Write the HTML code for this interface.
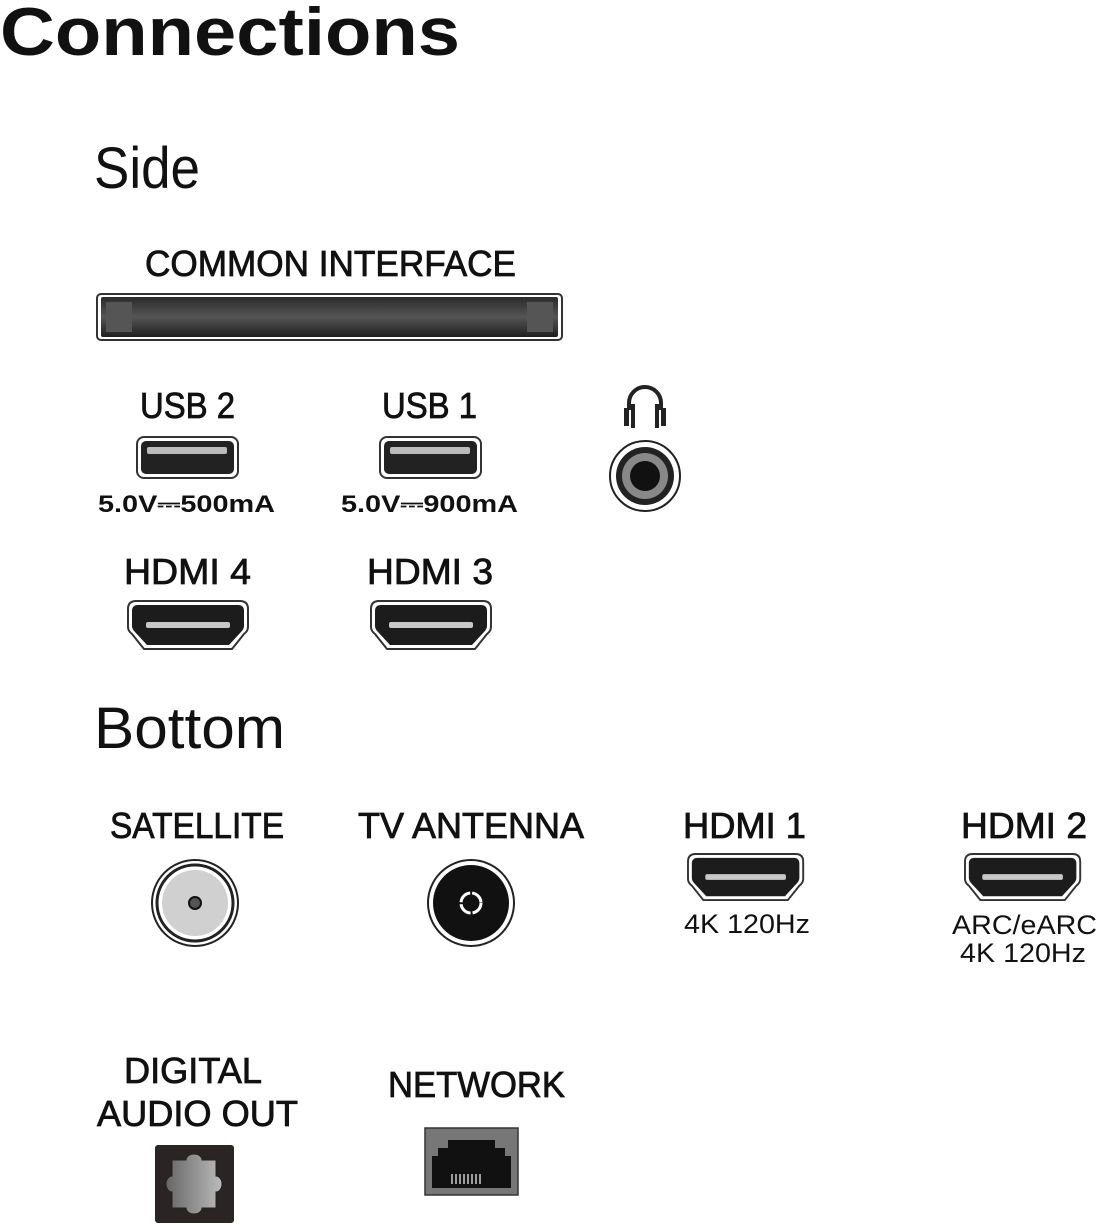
<!DOCTYPE html>
<html><head><meta charset="utf-8"><style>
html,body{margin:0;padding:0;background:#fff;}
svg{display:block;}
text{font-family:"Liberation Sans",sans-serif;fill:#111;}
.b{font-weight:bold;}
.l{stroke:#111;stroke-width:0.8;}
</style></head><body>
<svg width="1097" height="1225" viewBox="0 0 1097 1225" xmlns="http://www.w3.org/2000/svg">
<defs>
<linearGradient id="ci" x1="0" y1="0" x2="0" y2="1">
<stop offset="0" stop-color="#2a2a2a"/><stop offset="0.5" stop-color="#555"/><stop offset="1" stop-color="#1e1e1e"/>
</linearGradient>
<linearGradient id="opt" x1="0" y1="0" x2="1" y2="0">
<stop offset="0" stop-color="#666"/><stop offset="1" stop-color="#bbb"/>
</linearGradient>
<g id="hdmi">
<path d="M8,0 H112 Q120,0 120,8 V26 Q120,30 116,33 L104,48 H16 L4,33 Q0,30 0,26 V8 Q0,0 8,0 Z" fill="#fff" stroke="#333" stroke-width="2"/>
<path d="M10,4 H110 Q116,4 116,10 V25 Q116,28 113,31 L101,44 H19 L7,31 Q4,28 4,25 V10 Q4,4 10,4 Z" fill="#1c1c1c"/>
<rect x="18" y="21" width="84" height="6" rx="2" fill="#c8c8c8"/>
</g>
<g id="usb">
<rect x="0" y="0" width="101" height="41" rx="7" fill="#fff" stroke="#333" stroke-width="2"/>
<rect x="4" y="4" width="93" height="33" rx="5" fill="#222"/>
<rect x="10" y="10" width="80" height="7" rx="2" fill="#bbb"/>
</g>
</defs>

<text x="0" y="55" class="b" font-size="68" textLength="460" lengthAdjust="spacingAndGlyphs">Connections</text>
<text x="94" y="188" font-size="58" textLength="106" lengthAdjust="spacingAndGlyphs">Side</text>
<text x="94" y="748" font-size="58" textLength="191" lengthAdjust="spacingAndGlyphs">Bottom</text>

<text x="145" y="276" class="l" font-size="36" textLength="371" lengthAdjust="spacingAndGlyphs">COMMON INTERFACE</text>
<rect x="97" y="294" width="465" height="46" rx="4" fill="#fff" stroke="#333" stroke-width="2"/>
<rect x="101" y="297" width="457" height="40" rx="2" fill="url(#ci)"/>
<rect x="106" y="302" width="26" height="30" fill="#555"/>
<rect x="527" y="302" width="26" height="30" fill="#555"/>

<text x="140" y="418" class="l" font-size="36" textLength="95" lengthAdjust="spacingAndGlyphs">USB 2</text>
<text x="382" y="418" class="l" font-size="36" textLength="95" lengthAdjust="spacingAndGlyphs">USB 1</text>
<use href="#usb" x="137" y="437"/>
<use href="#usb" x="380" y="437"/>
<text x="98" y="512" class="b" font-size="24" textLength="177" lengthAdjust="spacingAndGlyphs">5.0V⎓500mA</text>
<text x="341" y="512" class="b" font-size="24" textLength="177" lengthAdjust="spacingAndGlyphs">5.0V⎓900mA</text>

<path d="M629,410 V403 A16,16 0 0 1 661,403 V410" fill="none" stroke="#222" stroke-width="4"/>
<rect x="624" y="408" width="5" height="18" fill="#222"/><rect x="631" y="404" width="4" height="24" fill="#222"/>
<rect x="661" y="408" width="5" height="18" fill="#222"/><rect x="655" y="404" width="4" height="24" fill="#222"/>
<circle cx="645" cy="476" r="35" fill="#fff" stroke="#222" stroke-width="2"/>
<circle cx="645" cy="476" r="29" fill="#222"/>
<circle cx="645" cy="476" r="23" fill="#888"/>
<circle cx="645" cy="476" r="15" fill="#111"/>

<text x="124" y="584" class="l" font-size="36" textLength="127" lengthAdjust="spacingAndGlyphs">HDMI 4</text>
<text x="367" y="584" class="l" font-size="36" textLength="126" lengthAdjust="spacingAndGlyphs">HDMI 3</text>
<use href="#hdmi" x="128" y="601"/>
<use href="#hdmi" x="371" y="601"/>

<text x="110" y="838" class="l" font-size="36" textLength="174" lengthAdjust="spacingAndGlyphs">SATELLITE</text>
<text x="358" y="838" class="l" font-size="36" textLength="226" lengthAdjust="spacingAndGlyphs">TV ANTENNA</text>
<text x="683" y="838" class="l" font-size="36" textLength="123" lengthAdjust="spacingAndGlyphs">HDMI 1</text>
<text x="961" y="838" class="l" font-size="36" textLength="126" lengthAdjust="spacingAndGlyphs">HDMI 2</text>

<circle cx="195" cy="903" r="43" fill="#fff" stroke="#222" stroke-width="2"/>
<circle cx="195" cy="903" r="38" fill="#fff" stroke="#222" stroke-width="3"/>
<circle cx="195" cy="903" r="33" fill="#d0d0d0"/>
<circle cx="195" cy="903" r="6" fill="#555" stroke="#111" stroke-width="2"/>

<circle cx="471" cy="903" r="43" fill="#fff" stroke="#222" stroke-width="2"/>
<circle cx="471" cy="903" r="38" fill="#111"/>
<circle cx="471" cy="903" r="10" fill="none" stroke="#fff" stroke-width="3" stroke-dasharray="14 2"/>

<use href="#hdmi" transform="translate(688,854) scale(0.96)"/>
<use href="#hdmi" transform="translate(965,854) scale(0.96)"/>
<text x="684" y="933" font-size="27" textLength="126" lengthAdjust="spacingAndGlyphs">4K 120Hz</text>
<text x="952" y="934" font-size="27" textLength="145" lengthAdjust="spacingAndGlyphs">ARC/eARC</text>
<text x="960" y="962" font-size="27" textLength="126" lengthAdjust="spacingAndGlyphs">4K 120Hz</text>

<text x="124" y="1083" class="l" font-size="36" textLength="138" lengthAdjust="spacingAndGlyphs">DIGITAL</text>
<text x="97" y="1126" class="l" font-size="36" textLength="201" lengthAdjust="spacingAndGlyphs">AUDIO OUT</text>
<text x="388" y="1097" class="l" font-size="36" textLength="177" lengthAdjust="spacingAndGlyphs">NETWORK</text>

<rect x="155" y="1145" width="79" height="78" rx="3" fill="#2a2424"/>
<path d="M172,1160 H186 A8,6 0 0 1 202,1160 H216 V1176 A6,8 0 0 1 216,1192 V1208 H202 A8,6 0 0 1 186,1208 H172 V1192 A6,8 0 0 1 172,1176 Z" fill="url(#opt)" stroke="#222" stroke-width="1"/>

<rect x="425" y="1128" width="93" height="67" fill="#777" stroke="#333" stroke-width="1.5"/>
<path d="M432,1188 V1156 H438 V1148 H448 V1140 H495 V1148 H505 V1156 H511 V1188 Z" fill="#111"/>
<g stroke="#ccc" stroke-width="1.5">
<line x1="452" y1="1174" x2="452" y2="1184"/><line x1="456" y1="1174" x2="456" y2="1184"/><line x1="460" y1="1174" x2="460" y2="1184"/><line x1="464" y1="1174" x2="464" y2="1184"/><line x1="468" y1="1174" x2="468" y2="1184"/><line x1="472" y1="1174" x2="472" y2="1184"/><line x1="476" y1="1174" x2="476" y2="1184"/><line x1="480" y1="1174" x2="480" y2="1184"/>
</g>
</svg>
</body></html>
